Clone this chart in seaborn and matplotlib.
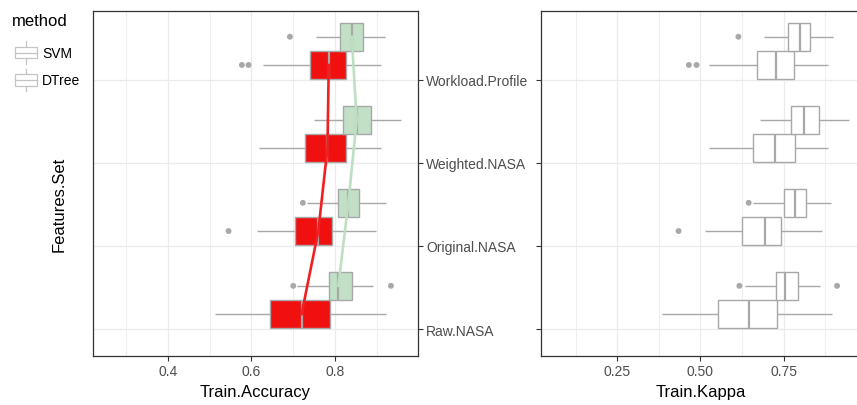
import numpy as np
import pandas as pd
import matplotlib
matplotlib.use("Agg")
import matplotlib.pyplot as plt
import seaborn as sns
from matplotlib.patches import Rectangle
from matplotlib.lines import Line2D
from matplotlib.legend_handler import HandlerBase

# ---------------- data ----------------
features = ["Raw.NASA", "Original.NASA", "Weighted.NASA", "Workload.Profile"]
methods = ["SVM", "DTree"]

# Train.Accuracy box summaries (order = features)
acc_svm_lo = [0.513, 0.613, 0.619, 0.627]
acc_svm_q1 = [0.645, 0.704, 0.728, 0.740]
acc_svm_med = [0.720, 0.760, 0.782, 0.785]
acc_svm_q3 = [0.788, 0.794, 0.826, 0.826]
acc_svm_hi = [0.921, 0.898, 0.909, 0.909]
acc_svm_out = [[], [0.545], [], [0.577, 0.593]]

acc_dt_lo = [0.708, 0.732, 0.750, 0.755]
acc_dt_q1 = [0.786, 0.806, 0.820, 0.812]
acc_dt_med = [0.808, 0.832, 0.852, 0.840]
acc_dt_q3 = [0.840, 0.858, 0.886, 0.868]
acc_dt_hi = [0.892, 0.922, 0.959, 0.920]
acc_dt_out = [[0.700, 0.934], [0.723], [], [0.692]]

# Train.Kappa box summaries
kap_svm_lo = [0.384, 0.514, 0.527, 0.527]
kap_svm_q1 = [0.552, 0.624, 0.659, 0.670]
kap_svm_med = [0.647, 0.693, 0.725, 0.728]
kap_svm_q3 = [0.729, 0.741, 0.785, 0.782]
kap_svm_hi = [0.895, 0.867, 0.883, 0.883]
kap_svm_out = [[], [0.434], [], [0.465, 0.488]]

kap_dt_lo = [0.635, 0.657, 0.680, 0.692]
kap_dt_q1 = [0.727, 0.750, 0.772, 0.762]
kap_dt_med = [0.754, 0.784, 0.812, 0.798]
kap_dt_q3 = [0.793, 0.817, 0.856, 0.830]
kap_dt_hi = [0.860, 0.894, 0.946, 0.898]
kap_dt_out = [[0.617, 0.911], [0.645], [], [0.614]]

# ---------------- styling ----------------
offset = {"SVM": 0.18, "DTree": 0.52}
box_h = 0.34
fill_acc = {"SVM": "#F01010", "DTree": "#C2E0C6"}
line_acc = {"SVM": "#F02020", "DTree": "#BEDFC2"}
edge = "#A8A8A8"
grid_c = "#EBEBEB"
tick_c = "#4D4D4D"
spine_c = "#333333"

plt.rcParams["font.family"] = ["Liberation Sans", "DejaVu Sans"]


def build(lo, q1, med, q3, hi, method, name, k=10):
    rows = []
    for i, f in enumerate(features):
        vals = [lo[i]] + [q1[i]] * k + [med[i]] * k + [q3[i]] * k + [hi[i]]
        for v in vals:
            rows.append({"Features.Set": f, "method": method,
                         "pos": i + 1 + offset[method], name: v})
    return pd.DataFrame(rows)


def outliers(out, method, name):
    rows = []
    for i, f in enumerate(features):
        for v in out[i]:
            rows.append({"pos": i + 1 + offset[method], name: v})
    return pd.DataFrame(rows, columns=["pos", name])


acc = {
    "SVM": (acc_svm_lo, acc_svm_q1, acc_svm_med, acc_svm_q3, acc_svm_hi, acc_svm_out),
    "DTree": (acc_dt_lo, acc_dt_q1, acc_dt_med, acc_dt_q3, acc_dt_hi, acc_dt_out),
}
kap = {
    "SVM": (kap_svm_lo, kap_svm_q1, kap_svm_med, kap_svm_q3, kap_svm_hi, kap_svm_out),
    "DTree": (kap_dt_lo, kap_dt_q1, kap_dt_med, kap_dt_q3, kap_dt_hi, kap_dt_out),
}

W, H = 857, 406
fig = plt.figure(figsize=(W / 100, H / 100), dpi=100)
ax1 = fig.add_axes([93 / W, 49 / H, 325 / W, 345 / H])
ax2 = fig.add_axes([541 / W, 49 / H, 319 / W, 345 / H])


def draw_panel(ax, stats, name, fills, lines):
    for m in methods:
        lo, q1, med, q3, hi, out = stats[m]
        d = build(lo, q1, med, q3, hi, m, name)
        sns.boxplot(data=d, x=name, y="pos", orient="y", native_scale=True,
                    width=box_h, color=fills[m], saturation=1, linecolor=edge,
                    linewidth=1.0, whis=(0, 100), showfliers=False, showcaps=False,
                    medianprops=dict(color=edge, linewidth=1.6), ax=ax, zorder=2)
        o = outliers(out, m, name)
        if len(o):
            sns.scatterplot(data=o, x=name, y="pos", color=edge, s=18,
                            edgecolor="none", ax=ax, zorder=3)
        if lines is not None:
            ld = pd.DataFrame({"pos": [i + 1 + offset[m] for i in range(len(features))],
                               name: med})
            sns.lineplot(data=ld, x=name, y="pos", sort=False, estimator=None,
                         color=lines[m], linewidth=1.9, ax=ax, zorder=4)


draw_panel(ax1, acc, "Train.Accuracy", fill_acc, line_acc)
draw_panel(ax2, kap, "Train.Kappa", {"SVM": "white", "DTree": "white"}, None)

for ax in (ax1, ax2):
    ax.set_ylim(0.675, 4.83)
    ax.set_yticks(range(1, len(features) + 1))
    ax.set_axisbelow(True)
    ax.grid(True, which="major", color=grid_c, linewidth=0.9)
    ax.grid(True, which="minor", axis="x", color=grid_c, linewidth=0.6)
    for s in ax.spines.values():
        s.set_color(spine_c)
        s.set_linewidth(0.9)
    ax.tick_params(axis="both", which="major", length=3.5, width=0.8, color=spine_c,
                   labelcolor=tick_c, labelsize=10, pad=2.5)
    ax.tick_params(axis="x", which="minor", length=0)
    ax.set_ylabel("")
    ax.set_facecolor("white")

ax1.set_xlim(0.2204, 0.9988)
ax1.set_xticks([0.4, 0.6, 0.8])
ax1.set_xticks([0.3, 0.5, 0.7, 0.9], minor=True)
ax1.set_xticklabels(["0.4", "0.6", "0.8"])
ax1.yaxis.tick_right()
ax1.set_yticklabels(features)
ax1.set_xlabel("Train.Accuracy", fontsize=12, color="black", labelpad=4)

ax2.set_xlim(0.02, 0.98)
ax2.set_xticks([0.25, 0.5, 0.75])
ax2.set_xticks([0.125, 0.375, 0.625, 0.875], minor=True)
ax2.set_xticklabels(["0.25", "0.50", "0.75"])
ax2.yaxis.tick_left()
ax2.set_yticklabels([])
ax2.set_xlabel("Train.Kappa", fontsize=12, color="black", labelpad=4)

fig.text(59 / W, 1 - 204 / H, "Features.Set", rotation=90, fontsize=12,
         ha="center", va="center", color="black")


class BoxHandler(HandlerBase):
    def create_artists(self, legend, orig_handle, xdescent, ydescent, width,
                       height, fontsize, trans):
        c = "#C4C4C4"
        x0, y0 = -xdescent, -ydescent
        bh = height * 0.42
        by = y0 + (height - bh) / 2
        xc = x0 + width / 2
        top = y0 + height * 0.92
        bot = y0 + height * 0.08
        arts = [
            Line2D([xc, xc], [bot, by], color=c, lw=0.9, transform=trans),
            Line2D([xc, xc], [by + bh, top], color=c, lw=0.9, transform=trans),
            Rectangle((x0, by), width, bh, facecolor="white", edgecolor=c, lw=0.9,
                      transform=trans),
            Line2D([x0, x0 + width], [by + bh / 2] * 2, color=c, lw=0.9, transform=trans),
        ]
        return arts


fig.text(12 / W, 1 - 22 / H, "method", fontsize=12, ha="left", va="center",
         color="black")
handles = [Rectangle((0, 0), 1, 1) for _ in methods]
leg = fig.legend(handles, methods, loc="upper left",
                 bbox_to_anchor=(15 / W, 1 - 40 / H), frameon=False, fontsize=10,
                 handlelength=1.58, handleheight=2.65, borderpad=0,
                 labelspacing=0.0, handletextpad=0.36, borderaxespad=0,
                 handler_map={Rectangle: BoxHandler()})

fig.savefig("out.png", dpi=100, facecolor="white")
